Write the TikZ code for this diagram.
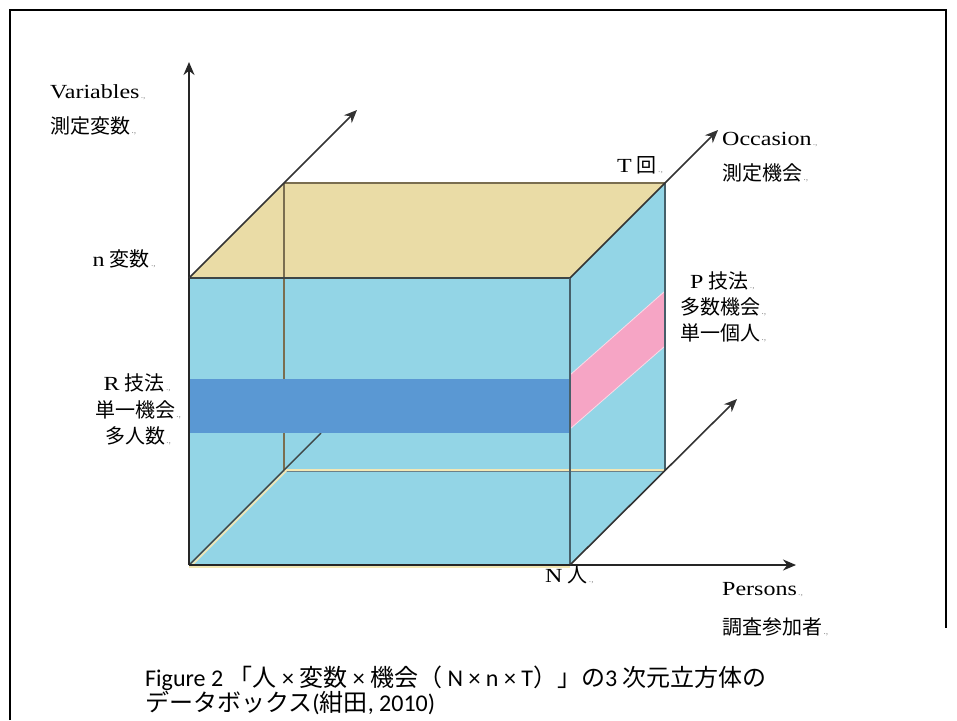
\documentclass[tikz,border=0pt]{standalone}
\usepackage{fontspec}
\setmainfont{Liberation Serif}[FakeStretch=1.2]
\newfontfamily\jp{Noto Sans CJK JP}
\newfontfamily\capfont{Carlito}
\usetikzlibrary{arrows.meta}
\definecolor{lblue}{HTML}{93D5E6}
\definecolor{toptan}{HTML}{EADCA6}
\definecolor{bandblue}{HTML}{5A98D3}
\definecolor{pinkband}{HTML}{F6A5C5}
\definecolor{edgedark}{HTML}{3E4646}
\definecolor{edgeslate}{HTML}{46606A}
\definecolor{edgeolive}{HTML}{7A6E50}
\definecolor{cream}{HTML}{F3E7B4}
\newcommand{\pmk}{{\color{black!45}\fontsize{8}{8}\selectfont\,.,}}
\newcommand{\hsp}{\hspace{5pt}}
\tikzset{
  lab/.style={font=\fontsize{20}{26}\selectfont, inner sep=0pt},
  axis/.style={line width=2pt, draw=black!85, -{Stealth[length=13pt,width=11pt]}},
  diag/.style={line width=1.6pt, draw=black!80, -{Stealth[length=13pt,width=11pt]}},
  capt/.style={font=\capfont\fontsize{24}{26}\selectfont, inner sep=0pt}
}
\begin{document}
\begin{tikzpicture}[x=1pt,y=-1pt]
\useasboundingbox (0,0) rectangle (957,720);
% frame
\coordinate (F1) at (10,720);
\coordinate (F2) at (10,10);
\coordinate (F3) at (946,10);
\coordinate (F4) at (946,628);
\draw[line width=2pt] (F1) -- (F2) -- (F3) -- (F4);
% cube corners
\coordinate (O) at (189,565);
\coordinate (N) at (570,565);
\coordinate (FTL) at (189,278);
\coordinate (FTR) at (570,278);
\coordinate (BTL) at (284,183);
\coordinate (BTR) at (665,183);
\coordinate (BBL) at (284,470);
\coordinate (BBR) at (665,470);
\coordinate (OD) at (321,433);
\coordinate (Vtip) at (189,62);
\coordinate (Htip) at (796,565);
\coordinate (D1tip) at (357,110);
\coordinate (D2tip) at (718,130);
\coordinate (D3tip) at (737,399);
% faces
\fill[lblue] (O) -- (N) -- (BBR) -- (BBL) -- cycle;
\fill[lblue] (O) -- (FTL) -- (FTR) -- (N) -- cycle;
\fill[lblue] (FTR) -- (BTR) -- (BBR) -- (N) -- cycle;
\fill[toptan] (FTL) -- (FTR) -- (BTR) -- (BTL) -- cycle;
% hidden edges
\draw[cream, line width=2pt] (BBL) -- (BBR);
\draw[edgeslate!80, line width=0.8pt] ([yshift=-1.5pt]BBL) -- ([yshift=-1.5pt]BBR);
\draw[edgeolive, line width=1.2pt] (BTL) -- (BBL);
\draw[cream, line width=1.5pt] ([xshift=3pt]O) -- ([xshift=3pt]BBL);
\draw[cream, line width=1.5pt] ([yshift=-2pt]O) -- ([yshift=-2pt]N);
\draw[edgedark, line width=1.4pt] (O) -- (OD);
% bands
\fill[bandblue] (189,379) rectangle (570,433);
\fill[pinkband, draw=white!60!pinkband, line width=0.8pt] (570,375) -- (665,291) -- (665,346) -- (570,429) -- cycle;
% edges
\draw[edgeolive, line width=1.5pt] (BTL) -- (BTR);
\draw[edgedark, line width=1.6pt] (FTL) -- (FTR);
\draw[edgeslate, line width=1.5pt] (FTR) -- (N);
\draw[edgeslate, line width=1.2pt] (BTR) -- (BBR);
% axes
\draw[axis] (O) -- (Vtip);
\draw[axis] (O) -- (Htip);
\draw[diag] (FTL) -- (D1tip);
\draw[diag] (FTR) -- (D2tip);
\draw[diag] (N) -- (D3tip);
% labels left
\node[lab, anchor=base west] (var) at (50,98) {Variables\pmk};
\node[lab, anchor=base west] (varj) at (50,133) {\jp 測定変数\pmk};
\node[lab, anchor=base east] (nvar) at (156,266) {n\hsp{\jp 変数}\pmk};
\node[lab, anchor=base east] (rt) at (171,390) {R\hsp{\jp 技法}\pmk};
\node[lab, anchor=base east] (rs) at (181,417) {\jp 単一機会\pmk};
\node[lab, anchor=base east] (rm) at (171,443) {\jp 多人数\pmk};
% labels right
\node[lab, anchor=base west] (tk) at (617,172) {T\hsp{\jp 回}\pmk};
\node[lab, anchor=base west] (occ) at (722,145) {Occasion\pmk};
\node[lab, anchor=base west] (occj) at (722,180) {\jp 測定機会\pmk};
\node[lab, anchor=base west] (pt) at (690,288) {P\hsp{\jp 技法}\pmk};
\node[lab, anchor=base west] (pm) at (680,314) {\jp 多数機会\pmk};
\node[lab, anchor=base west] (ps) at (680,340) {\jp 単一個人\pmk};
\node[lab, anchor=base west] (nn) at (545,582) {N\hsp{\jp 人}\pmk};
\node[lab, anchor=base west] (per) at (722,595) {Persons\pmk};
\node[lab, anchor=base west] (perj) at (722,634) {\jp 調査参加者\pmk};
% caption
\node[capt, anchor=base west] (cap1) at (145,686) {Figure 2 {\jp 「人} × {\jp 変数} × {\jp 機会（} N × n × T{\jp ）」の}3 {\jp 次元立方体の}};
\node[capt, anchor=base west] (cap2) at (145,711) {{\jp データボックス}({\jp 紺田}, 2010)};
\end{tikzpicture}
\end{document}
